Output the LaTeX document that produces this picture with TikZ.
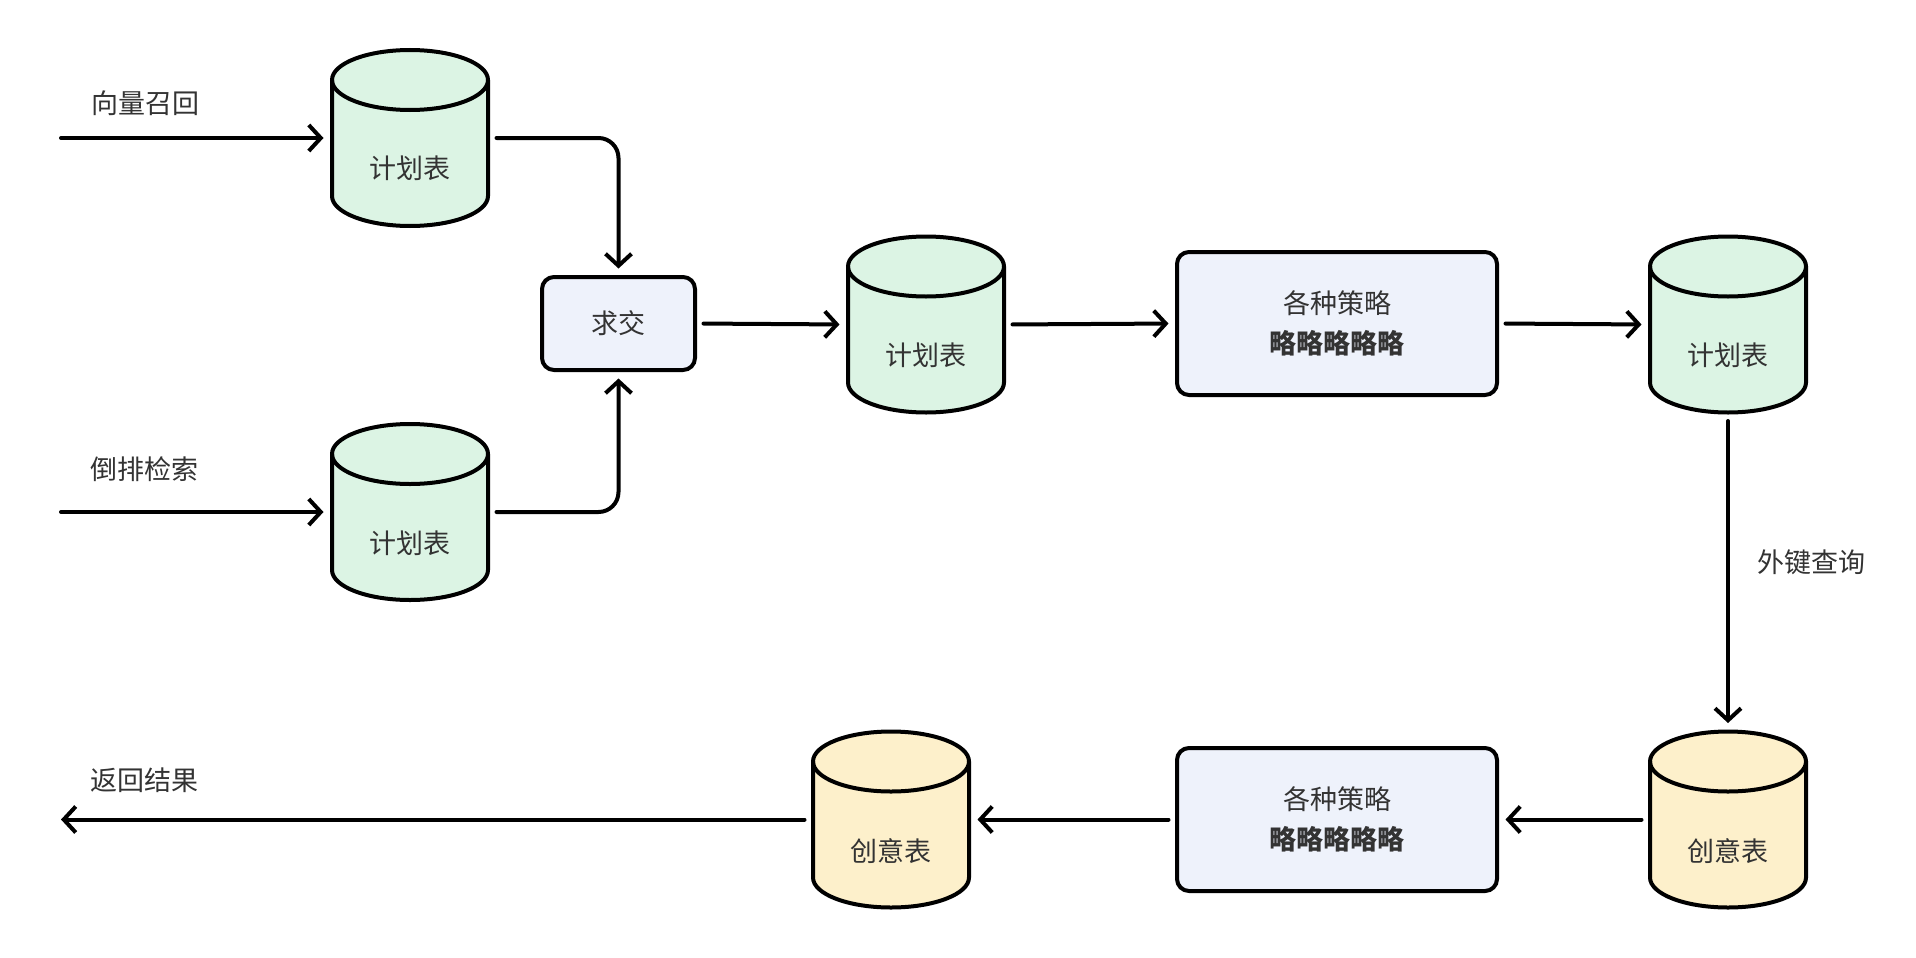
\documentclass[tikz,border=0pt]{standalone}
\usepackage{fontspec}
\setmainfont{Noto Sans CJK SC}
\usetikzlibrary{arrows.meta,backgrounds,calc}
\definecolor{cylgreen}{HTML}{DCF4E4}
\definecolor{cylyellow}{HTML}{FDF0CB}
\definecolor{boxblue}{HTML}{EEF2FB}
\definecolor{txt}{HTML}{333333}
\tikzset{
  cylbox/.style={minimum width=156pt, minimum height=176pt, inner sep=0pt, outer sep=0pt},
  cyltext/.style={font=\fontsize{27pt}{32pt}\selectfont, text=txt, inner sep=0pt},
  procbox/.style={draw=black, line width=4pt, rounded corners=12pt, fill=boxblue,
    inner sep=0pt, outer sep=0pt, align=center, text=txt,
    font=\fontsize{27pt}{40pt}\selectfont},
  lbl/.style={font=\fontsize{27pt}{32pt}\selectfont, text=txt, inner sep=0pt},
  conn/.style={line width=4pt, line cap=round,
    -{Straight Barb[length=12pt,width=26pt,line width=4pt]},
    shorten >=8.5pt, shorten <=8.5pt},
  cylline/.style={draw=black, line width=4pt, line join=round}
}
\newcommand{\drawcylinder}[2]{%
  \path[cylline, fill=#2] ($(#1.north west)+(0,-30)$) -- ($(#1.south west)+(0,30)$)
    arc[start angle=180, end angle=360, x radius=78, y radius=30]
    -- ($(#1.north east)+(0,-30)$)
    arc[start angle=0, end angle=180, x radius=78, y radius=30] -- cycle;
  \draw[cylline] ($(#1.north west)+(0,-30)$)
    arc[start angle=180, end angle=360, x radius=78, y radius=30];
}
\begin{document}
\begin{tikzpicture}[x=1pt, y=1pt]
\useasboundingbox (0,0) rectangle (1916,-958);

% cylinders (anchor boxes)
\node[cylbox] (c1) at (410,-138) {};
\node[cylbox] (c2) at (410,-512) {};
\node[cylbox] (c3) at (926,-324.5) {};
\node[cylbox] (c4) at (1728,-324.5) {};
\node[cylbox] (c5) at (1728,-819.5) {};
\node[cylbox] (c6) at (891,-819.5) {};

\begin{scope}[on background layer]
  \fill[white] (0,0) rectangle (1916,-958);
  \drawcylinder{c1}{cylgreen}
  \drawcylinder{c2}{cylgreen}
  \drawcylinder{c3}{cylgreen}
  \drawcylinder{c4}{cylgreen}
  \drawcylinder{c5}{cylyellow}
  \drawcylinder{c6}{cylyellow}
\end{scope}

\node[cyltext] (t1) at ($(c1.center)+(0,-30)$) {计划表};
\node[cyltext] (t2) at ($(c2.center)+(0,-31)$) {计划表};
\node[cyltext] (t3) at ($(c3.center)+(0,-31)$) {计划表};
\node[cyltext] (t4) at ($(c4.center)+(0,-31)$) {计划表};
\node[cyltext] (t5) at ($(c5.center)+(0,-32)$) {创意表};
\node[cyltext] (t6) at ($(c6.center)+(0,-32)$) {创意表};

% process boxes
\node[procbox, minimum width=153pt, minimum height=93pt] (qj) at (618.5,-323.5) {求交};
\node[procbox, minimum width=320pt, minimum height=143pt] (s1) at (1337,-323.5) {各种策略\\\textbf{略略略略略}};
\node[procbox, minimum width=320pt, minimum height=143pt] (s2) at (1337,-819.5) {各种策略\\\textbf{略略略略略}};

% free ends
\coordinate (in1) at (61,-138);
\coordinate (in2) at (61,-512);
\coordinate (out) at (52.5,-819.5);

% labels
\node[lbl] (l1) at (145,-103) {向量召回};
\node[lbl] (l2) at (144,-469) {倒排检索};
\node[lbl] (l3) at (144,-780) {返回结果};
\node[lbl] (l4) at (1811,-562) {外键查询};

% connectors
\draw[conn, shorten <=0pt] (in1) -- (c1.west);
\draw[conn, shorten <=0pt] (in2) -- (c2.west);
\draw[conn, rounded corners=20pt] (c1.east) -| (qj.north);
\draw[conn, rounded corners=20pt] (c2.east) -| (qj.south);
\draw[conn] (qj.east) -- (c3.west);
\draw[conn] (c3.east) -- (s1.west);
\draw[conn] (s1.east) -- (c4.west);
\draw[conn] (c4.south) -- (c5.north);
\draw[conn] (c5.west) -- (s2.east);
\draw[conn] (s2.west) -- (c6.east);
\draw[conn] (c6.west) -- (out);
\end{tikzpicture}
\end{document}
